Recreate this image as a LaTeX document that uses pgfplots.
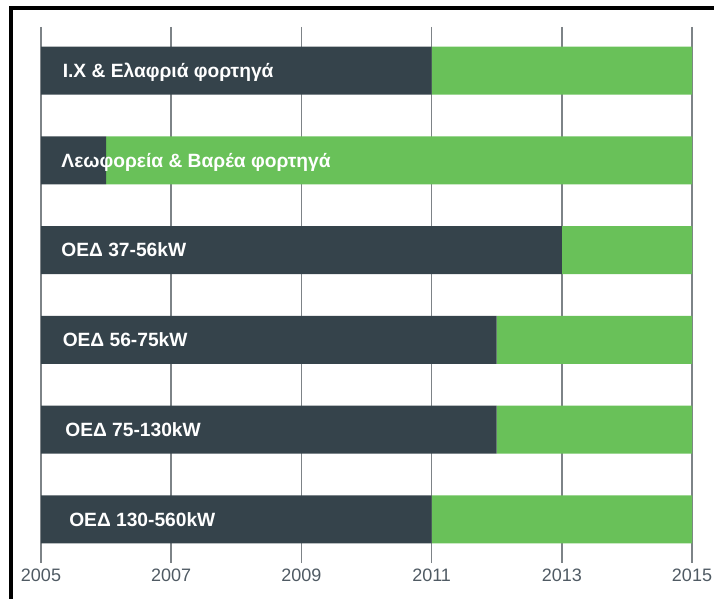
\documentclass[border=0pt]{standalone}
\usepackage{pgfplots}
\pgfplotsset{compat=1.18}
\usepackage{fontspec}
\setmainfont{Liberation Sans}
\definecolor{darkbar}{HTML}{35434B}
\definecolor{greenbar}{HTML}{69C159}
\definecolor{gridgray}{HTML}{7D8387}
\definecolor{ticktext}{HTML}{4F5A63}
\tikzset{barlbl/.style={anchor=west, text=white, inner sep=0pt, font=\fontsize{14.4}{17}\selectfont\bfseries}}
\begin{document}
\begin{tikzpicture}[x=0.75pt,y=0.75pt]
\useasboundingbox (0,0) rectangle (714,599);
\draw[line width=2.4pt,black] (11,0) -- (11,591) -- (714,591);
\begin{axis}[
  at={(30.75pt,27pt)}, anchor=south west,
  scale only axis,
  width=488.25pt, height=402pt,
  xbar stacked,
  bar width=0.535,
  xmin=0, xmax=10,
  ymin=-0.485, ymax=5.485,
  y dir=reverse,
  axis line style={draw=none},
  xtick={0,2,4,6,8,10},
  xticklabels={2005,2007,2009,2011,2013,2015},
  ytick=\empty,
  major tick length=0pt,
  xmajorgrids,
  grid style={gridgray, line width=1.1pt},
  xticklabel style={font=\fontsize{13.5}{16}\selectfont, text=ticktext, yshift=-1pt},
  clip=false,
]
\addplot[fill=darkbar, draw=none] coordinates {(6,0) (1,1) (8,2) (7,3) (7,4) (6,5)};
\addplot[fill=greenbar, draw=none] coordinates {(4,0) (9,1) (2,2) (3,3) (3,4) (4,5)};
\coordinate (l1) at (axis cs:0.33,0.02);
\coordinate (l2) at (axis cs:0.31,1.02);
\coordinate (l3) at (axis cs:0.31,2);
\coordinate (l4) at (axis cs:0.33,3);
\coordinate (l5) at (axis cs:0.37,4);
\coordinate (l6) at (axis cs:0.43,5);
\end{axis}
\node[barlbl] at (l1) {Ι.Χ \& Ελαφριά φορτηγά};
\node[barlbl] at (l2) {Λεωφορεία \& Βαρέα φορτηγά};
\node[barlbl] at (l3) {ΟΕΔ 37-56kW};
\node[barlbl] at (l4) {ΟΕΔ 56-75kW};
\node[barlbl] at (l5) {ΟΕΔ 75-130kW};
\node[barlbl] at (l6) {ΟΕΔ 130-560kW};
\end{tikzpicture}
\end{document}
